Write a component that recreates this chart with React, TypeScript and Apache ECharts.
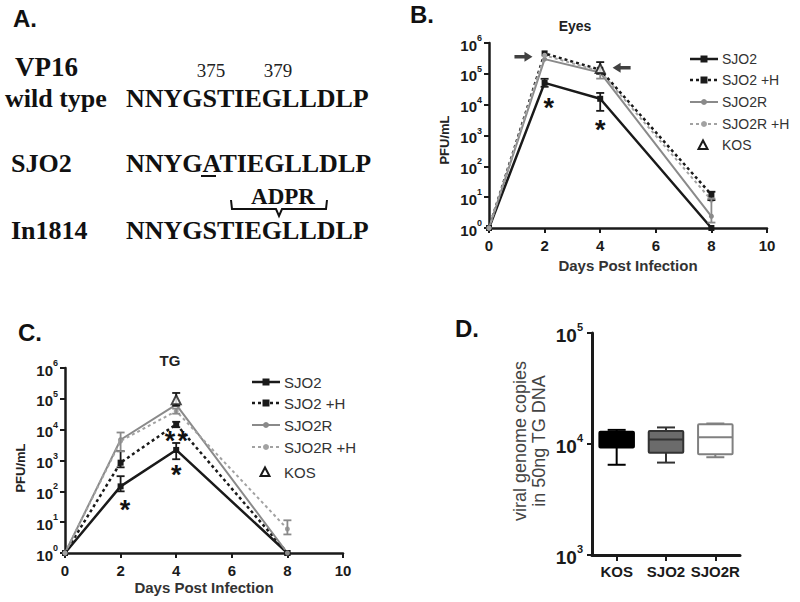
import React, { useEffect, useRef } from "react";
import * as echarts from "echarts";

// ---------- data ----------
const days = [0, 2, 4, 8];
const seriesNames = ["SJO2", "SJO2 +H", "SJO2R", "SJO2R +H", "KOS"];

// Panel B: Eyes (PFU/mL)
const eyesSJO2 = [1, 5.1e4, 1.55e4, 1];
const eyesSJO2H = [1, 4.6e5, 1.35e5, 12];
const eyesSJO2R = [1, 3.0e5, 1.1e5, 2.4];
const eyesSJO2RH = [1, 4.0e5, 1.2e5, 8];
const eyesKOS = [null, null, 1.5e5, null];
// error bars: [day, low, high, shade(0 black / 1 gray)]
const eyesErr = [
  [2, 3.8e4, 6.9e4, 0],
  [4, 6.3e3, 2.4e4, 0],
  [4, 1.0e5, 2.4e5, 0],
  [4, 7.0e4, 1.1e5, 1],
  [8, 8, 15, 0],
  [8, 1.5, 9, 1],
];
const eyesStars = [[2.15, 1.45e4], [4, 2.8e3]];
const eyesArrowRight = [[1.24, 3.6e5]];
const eyesArrowLeft = [[4.77, 1.58e5]];

// Panel C: TG (PFU/mL)
const tgSJO2 = [1, 145, 2.2e3, 1];
const tgSJO2H = [1, 850, 1.5e4, 1];
const tgSJO2R = [1, 4.7e3, 6.5e4, 1];
const tgSJO2RH = [1, 4.3e3, 4.0e4, 6];
const tgKOS = [null, null, 9.4e4, null];
const tgErr = [
  [2, 100, 310, 0],
  [2, 600, 2.0e3, 0],
  [2, 2.0e3, 8.1e3, 1],
  [4, 1.1e3, 3.7e3, 0],
  [4, 1.2e4, 1.8e4, 0],
  [4, 6.0e4, 1.55e5, 0],
  [4, 3.3e4, 4.8e4, 1],
  [8, 4, 11.5, 1],
];
const tgStars = [[2.16, 46], [3.78, 8e3], [4.24, 8e3], [4, 630]];

// Panel D: viral genome copies (box plots)
const boxCats = ["KOS", "SJO2", "SJO2R"];
const boxMin = [6.5e3, 6.8e3, 7.6e3];
const boxQ1 = [9.3e3, 8.35e3, 8.1e3];
const boxMed = [1.1e4, 1.1e4, 1.15e4];
const boxQ3 = [1.29e4, 1.31e4, 1.51e4];
const boxMax = [1.34e4, 1.41e4, 1.53e4];

// ---------- styles ----------
const SANS = "Liberation Sans, Arial, sans-serif";
const SERIF = "Liberation Serif, Times New Roman, serif";
const INK = "#1a1a1a";
const GRAY = "#8a8a8a";
const LGRAY = "#a2a2a2";
const boxFill = ["#000000", "#6b6b6b", "#ffffff"];
const boxStroke = ["#000000", "#333333", "#808080"];

const lineCfg = [
  { color: INK, dash: "solid", lineDash: null, width: 2.5, symbol: "rect", size: 6 },
  { color: INK, dash: [3, 3], lineDash: [3, 3], width: 2.5, symbol: "rect", size: 6 },
  { color: GRAY, dash: "solid", lineDash: null, width: 2, symbol: "circle", size: 5 },
  { color: LGRAY, dash: [3, 3], lineDash: [3, 3], width: 2, symbol: "circle", size: 5 },
];

const supRich = (fs: number, sfs: number) => ({
  b: { fontSize: fs, fontWeight: "bold", color: INK, fontFamily: SANS, lineHeight: fs + 4, verticalAlign: "bottom" },
  s: { fontSize: sfs, fontWeight: "bold", color: INK, fontFamily: SANS, lineHeight: sfs + 1, verticalAlign: "top" },
});

const logY = (gridIndex: number, min: number, max: number, split: number, fs: number, sfs: number, margin: number, lw: number) => ({
  type: "log",
  logBase: 10,
  gridIndex,
  min,
  max,
  splitNumber: split,
  axisLine: { show: true, onZero: false, lineStyle: { color: INK, width: lw } },
  axisTick: { show: true, length: 5, lineStyle: { color: INK, width: 2 } },
  minorTick: { show: false },
  splitLine: { show: false },
  axisLabel: {
    margin,
    fontSize: fs,
    fontWeight: "bold",
    color: INK,
    fontFamily: SANS,
    formatter: (v: number) => `{b|10}{s|${Math.round(Math.log10(v))}}`,
    rich: supRich(fs, sfs),
  },
});

const dayX = (gridIndex: number, nameGap: number) => ({
  type: "value",
  gridIndex,
  min: 0,
  max: 10,
  interval: 2,
  name: "Days Post Infection",
  nameLocation: "middle",
  nameGap,
  nameTextStyle: { fontSize: 15, fontWeight: "bold", color: "#333", fontFamily: SANS },
  axisLine: { show: true, onZero: false, lineStyle: { color: INK, width: 2.5 } },
  axisTick: { show: true, length: 5, lineStyle: { color: INK, width: 2 } },
  splitLine: { show: false },
  axisLabel: { margin: 10, fontSize: 15, fontWeight: "bold", color: INK, fontFamily: SANS },
});

const toXY = (arr: (number | null)[]) => days.map((d, i) => [d, arr[i]]);

const lineSeries = (idx: number, vals: any[][]) =>
  vals.map((v, k) => ({
    type: "line",
    name: seriesNames[k],
    xAxisIndex: idx,
    yAxisIndex: idx,
    data: v,
    symbol: lineCfg[k].symbol,
    symbolSize: lineCfg[k].size,
    showAllSymbol: true,
    itemStyle: { color: lineCfg[k].color },
    lineStyle: { color: lineCfg[k].color, width: lineCfg[k].width, type: lineCfg[k].dash },
    z: 3,
  }));

const kosSeries = (idx: number, v: any[][]) => ({
  type: "scatter",
  name: "KOS",
  xAxisIndex: idx,
  yAxisIndex: idx,
  data: v.filter((p) => p[1] != null),
  symbol: "triangle",
  symbolSize: 9,
  itemStyle: { color: "#ffffff", borderColor: INK, borderWidth: 2 },
  z: 5,
});

const errSeries = (idx: number, data: number[][]) => ({
  type: "custom",
  name: "err" + idx,
  xAxisIndex: idx,
  yAxisIndex: idx,
  data,
  encode: { x: 0, y: [1, 2] },
  z: 4,
  renderItem: (_p: any, api: any) => {
    const x = api.value(0);
    const lo = api.coord([x, api.value(1)]);
    const hi = api.coord([x, api.value(2)]);
    const col = api.value(3) ? GRAY : INK;
    const st = { stroke: col, lineWidth: 1.8 };
    return {
      type: "group",
      children: [
        { type: "line", shape: { x1: lo[0], y1: lo[1], x2: hi[0], y2: hi[1] }, style: st },
        { type: "line", shape: { x1: hi[0] - 4, y1: hi[1], x2: hi[0] + 4, y2: hi[1] }, style: st },
        { type: "line", shape: { x1: lo[0] - 4, y1: lo[1], x2: lo[0] + 4, y2: lo[1] }, style: st },
      ],
    };
  },
});

const starSeries = (idx: number, data: number[][]) => ({
  type: "scatter",
  name: "stars" + idx,
  xAxisIndex: idx,
  yAxisIndex: idx,
  data,
  symbolSize: 0.1,
  itemStyle: { color: "#111", opacity: 1 },
  label: {
    show: true,
    position: "inside",
    formatter: "*",
    fontSize: 27,
    fontWeight: "bold",
    color: "#111",
    fontFamily: SANS,
    offset: [0, 8],
  },
  z: 6,
});

const arrowPath = "path://M0,3.2 L10,3.2 L10,0 L18,5 L10,10 L10,6.8 L0,6.8 Z";
const arrowSeries = (data: number[][], rot: number) => ({
  type: "scatter",
  name: "arrow" + rot,
  xAxisIndex: 0,
  yAxisIndex: 0,
  data,
  symbol: arrowPath,
  symbolSize: [18, 10],
  symbolRotate: rot,
  itemStyle: { color: "#111" },
  z: 6,
});

// hand-drawn legend (graphic), one per panel
const legendRows = (x0: number, ys: number[], fs: number) => {
  const out: any[] = [];
  seriesNames.forEach((name, k) => {
    const y = ys[k];
    const cx = x0 + 14;
    if (k < 4) {
      const c = lineCfg[k];
      out.push({
        type: "line",
        shape: { x1: x0, y1: y, x2: x0 + 28, y2: y },
        style: { stroke: c.color, lineWidth: c.width, lineDash: c.lineDash },
      });
      if (c.symbol === "rect") {
        out.push({ type: "rect", shape: { x: cx - 3.5, y: y - 3.5, width: 7, height: 7 }, style: { fill: c.color } });
      } else {
        out.push({ type: "circle", shape: { cx, cy: y, r: 3 }, style: { fill: c.color } });
      }
    } else {
      out.push({
        type: "polygon",
        shape: { points: [[cx - 1 - 4.5, y + 4], [cx - 1 + 4.5, y + 4], [cx - 1, y - 4.5]] },
        style: { fill: "#fff", stroke: INK, lineWidth: 2 },
      });
    }
    out.push({
      type: "text",
      x: x0 + 32,
      y,
      style: { text: name, fontSize: fs, fill: "#333", fontFamily: SANS, align: "left", verticalAlign: "middle" },
    });
  });
  return out;
};

const boxSeries = {
  type: "custom",
  name: "boxes",
  xAxisIndex: 2,
  yAxisIndex: 2,
  data: boxCats.map((_, i) => [i, boxMin[i], boxQ1[i], boxMed[i], boxQ3[i], boxMax[i]]),
  encode: { x: 0, y: [1, 2, 3, 4, 5] },
  renderItem: (_p: any, api: any) => {
    const i = api.value(0);
    const pMin = api.coord([i, api.value(1)]);
    const pQ1 = api.coord([i, api.value(2)]);
    const pMed = api.coord([i, api.value(3)]);
    const pQ3 = api.coord([i, api.value(4)]);
    const pMax = api.coord([i, api.value(5)]);
    const half = api.size([1, 0])[0] * 0.35;
    const cap = 9;
    const cx = pMed[0];
    const stroke = boxStroke[i];
    const ls = { stroke, lineWidth: 2 };
    return {
      type: "group",
      children: [
        { type: "line", shape: { x1: cx, y1: pMax[1], x2: cx, y2: pQ3[1] }, style: ls },
        { type: "line", shape: { x1: cx, y1: pQ1[1], x2: cx, y2: pMin[1] }, style: ls },
        { type: "line", shape: { x1: cx - cap, y1: pMax[1], x2: cx + cap, y2: pMax[1] }, style: ls },
        { type: "line", shape: { x1: cx - cap, y1: pMin[1], x2: cx + cap, y2: pMin[1] }, style: ls },
        {
          type: "rect",
          shape: { x: cx - half, y: pQ3[1], width: half * 2, height: pQ1[1] - pQ3[1], r: 1 },
          style: { fill: boxFill[i], stroke, lineWidth: 2 },
        },
        { type: "line", shape: { x1: cx - half, y1: pMed[1], x2: cx + half, y2: pMed[1] }, style: { stroke, lineWidth: 2 } },
      ],
    };
  },
};

// ---------- panel A graphics ----------
const seqStyle = { fontSize: 26, fontWeight: "bold", fill: "#111", fontFamily: SERIF };
const txt = (x: number, y: number, text: string, style: any, align = "left") => ({
  type: "text",
  x,
  y,
  style: { text, ...style, align, verticalAlign: "middle" },
});

const panelA = [
  txt(13, 18, "A.", { fontSize: 24, fontWeight: "bold", fill: "#111", fontFamily: SANS }),
  txt(15, 67, "VP16", { ...seqStyle, fontSize: 27 }),
  txt(211, 70, "375", { fontSize: 19, fill: "#222", fontFamily: SERIF }, "center"),
  txt(278, 70, "379", { fontSize: 19, fill: "#222", fontFamily: SERIF }, "center"),
  txt(5, 98, "wild type", seqStyle),
  txt(126, 98, "NNYGSTIEGLLDLP", seqStyle),
  txt(11, 163, "SJO2", seqStyle),
  txt(126, 163, "NNYGATIEGLLDLP", seqStyle),
  { type: "line", shape: { x1: 201, y1: 176, x2: 216, y2: 176 }, style: { stroke: "#111", lineWidth: 2 } },
  txt(283, 196, "ADPR", { ...seqStyle, fontSize: 23 }, "center"),
  {
    type: "polyline",
    shape: { points: [[231, 200], [232, 209], [276, 209], [279, 216], [282, 209], [326, 209], [327, 200]] },
    style: { stroke: "#111", lineWidth: 2, fill: null },
  },
  txt(11, 230, "In1814", seqStyle),
  txt(126, 230, "NNYGSTIEGLLDLP", seqStyle),
];

const labels = [
  txt(410, 14, "B.", { fontSize: 24, fontWeight: "bold", fill: "#111", fontFamily: SANS }),
  txt(18, 332, "C.", { fontSize: 24, fontWeight: "bold", fill: "#111", fontFamily: SANS }),
  txt(455, 328, "D.", { fontSize: 24, fontWeight: "bold", fill: "#111", fontFamily: SANS }),
  txt(575, 26, "Eyes", { fontSize: 14, fontWeight: "bold", fill: "#222", fontFamily: SANS }, "center"),
  txt(170, 360, "TG", { fontSize: 15, fontWeight: "bold", fill: "#222", fontFamily: SANS }, "center"),
  {
    type: "text",
    x: 444,
    y: 140,
    rotation: Math.PI / 2,
    style: { text: "PFU/mL", fontSize: 13, fontWeight: "bold", fill: "#222", fontFamily: SANS, align: "center", verticalAlign: "middle" },
  },
  {
    type: "text",
    x: 20,
    y: 468,
    rotation: Math.PI / 2,
    style: { text: "PFU/mL", fontSize: 13, fontWeight: "bold", fill: "#222", fontFamily: SANS, align: "center", verticalAlign: "middle" },
  },
  {
    type: "text",
    x: 529,
    y: 441,
    rotation: Math.PI / 2,
    style: {
      text: "viral genome copies\nin 50ng TG DNA",
      fontSize: 18,
      lineHeight: 19,
      fill: "#444",
      fontFamily: SANS,
      align: "center",
      verticalAlign: "middle",
    },
  },
];

export default function App() {
  const ref = useRef<HTMLDivElement>(null);
  useEffect(() => {
    if (!ref.current) return;
    const chart = echarts.init(ref.current, undefined, { renderer: "svg" });
    const option: any = {
      animation: false,
      backgroundColor: "#ffffff",
      textStyle: { fontFamily: SANS },
      grid: [
        { left: 489, top: 43, width: 278, height: 185 },
        { left: 65, top: 368, width: 278, height: 185 },
        { left: 592, top: 333, width: 148, height: 222 },
      ],
      xAxis: [
        dayX(0, 30),
        dayX(1, 27),
        {
          type: "category",
          gridIndex: 2,
          data: boxCats,
          axisLine: { show: true, onZero: false, lineStyle: { color: INK, width: 3 } },
          axisTick: { show: true, alignWithLabel: true, length: 6, lineStyle: { color: INK, width: 2 } },
          axisLabel: { interval: 0, margin: 9, fontSize: 15, fontWeight: "bold", color: INK, fontFamily: SANS },
          splitLine: { show: false },
        },
      ],
      yAxis: [
        logY(0, 1, 1e6, 6, 15, 9, 7, 2.5),
        logY(1, 1, 1e6, 6, 15, 9, 7, 2.5),
        logY(2, 1e3, 1e5, 2, 19, 11, 9, 3),
      ],
      series: [
        ...lineSeries(0, [toXY(eyesSJO2), toXY(eyesSJO2H), toXY(eyesSJO2R), toXY(eyesSJO2RH)]),
        kosSeries(0, toXY(eyesKOS)),
        errSeries(0, eyesErr),
        starSeries(0, eyesStars),
        arrowSeries(eyesArrowRight, 0),
        arrowSeries(eyesArrowLeft, 180),
        ...lineSeries(1, [toXY(tgSJO2), toXY(tgSJO2H), toXY(tgSJO2R), toXY(tgSJO2RH)]),
        kosSeries(1, toXY(tgKOS)),
        errSeries(1, tgErr),
        starSeries(1, tgStars),
        boxSeries,
      ],
      graphic: [
        ...panelA,
        ...labels,
        ...legendRows(690, [59, 80, 102, 124, 145], 14),
        ...legendRows(252, [382, 403, 425, 447, 472], 15),
      ],
    };
    chart.setOption(option);
    return () => chart.dispose();
  }, []);
  return (
    <div
      ref={ref}
      style={{ position: "fixed", left: 0, top: 0, width: 800, height: 602, background: "#fff" }}
    />
  );
}
